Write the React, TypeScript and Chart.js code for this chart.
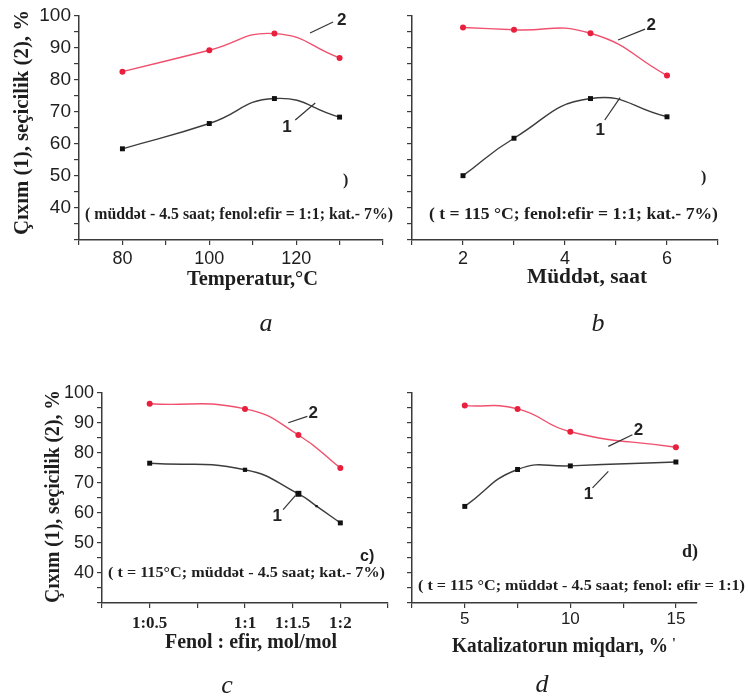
import React, { useEffect, useRef } from "react";
import { Chart, registerables } from "chart.js";

Chart.register(...registerables);

const W = 748;
const H = 697;

// ---------- data ----------
// Panel a: temperature
const tempC = [80, 100, 115, 130];
const yieldA = [58.5, 66.4, 74.2, 68.4];
const selA = [82.6, 89.3, 94.5, 86.9];
const tempTickLabels = [80, 100, 120];

// Panel b: duration, hours
const hours = [2, 3, 4.5, 6];
const yieldB = [50.1, 61.8, 74.2, 68.5];
const selB = [96.4, 95.7, 94.6, 81.4];
const hourTickLabels = [2, 4, 6];

// Panel c: phenol : ester ratio
const ratioX = [0.5, 1, 1.28, 1.5];
const ratioYieldX = [0.5, 1, 1.28, 1.375, 1.5];
const yieldC = [76.6, 74.4, 66.4, 62.3, 56.7];
const selC = [96.4, 94.7, 86.0, 75.0];
const ratioTickValues = [0.5, 1, 1.25, 1.5];
const ratioTickLabels = ["1:0.5", "1:1", "1:1.5", "1:2"];

// Panel d: catalyst amount, %
const catalyst = [5, 7.5, 10, 15];
const yieldD = [62.2, 74.5, 75.7, 77.0];
const selD = [95.8, 94.7, 87.1, 81.9];
const catalystTickLabels = [5, 10, 15];

// y axis (shared)
const yTickLabels = [40, 50, 60, 70, 80, 90, 100];

const Y_TITLE = "Çıxım (1), seçicilik (2), %";

// ---------- styles ----------
const SERIF = "'Liberation Serif', 'Times New Roman', serif";
const SANS = "'Liberation Sans', Arial, sans-serif";
const AXIS_COLOR = "#3a3a3a";
const TEXT_COLOR = "#1e1e1e";
const RED_LINE = "#f0506e";
const RED_POINT = "#e8203e";
const BLACK_LINE = "#3c3c3c";
const BLACK_POINT = "#111111";
const TENSION = 0.5;

type TextItem = {
  text: string;
  x: number;
  y: number;
  font: string;
  w?: number;
  rotate?: boolean;
  align?: CanvasTextAlign;
  baseline?: CanvasTextBaseline;
};

type Leader = {
  label: string;
  at: [number, number];
  from: [number, number];
  to: [number, number];
};

const textPlugin = {
  id: "panelText",
  afterDraw(chart: any, _args: any, opts: any) {
    const ctx: CanvasRenderingContext2D = chart.ctx;
    const xs = chart.scales.x;
    const ys = chart.scales.y;
    ctx.save();
    for (const l of (opts.leaders || []) as Leader[]) {
      ctx.strokeStyle = "#333";
      ctx.lineWidth = 1.2;
      ctx.beginPath();
      ctx.moveTo(xs.getPixelForValue(l.from[0]), ys.getPixelForValue(l.from[1]));
      ctx.lineTo(xs.getPixelForValue(l.to[0]), ys.getPixelForValue(l.to[1]));
      ctx.stroke();
      ctx.font = `bold ${opts.leaderSize || 17}px ${SANS}`;
      ctx.fillStyle = "#222";
      ctx.textAlign = "center";
      ctx.textBaseline = "middle";
      ctx.fillText(l.label, xs.getPixelForValue(l.at[0]), ys.getPixelForValue(l.at[1]));
    }
    for (const t of (opts.texts || []) as TextItem[]) {
      ctx.save();
      ctx.font = t.font;
      ctx.fillStyle = TEXT_COLOR;
      ctx.textBaseline = t.baseline || "middle";
      ctx.translate(t.x, t.y);
      if (t.rotate) ctx.rotate(-Math.PI / 2);
      if (t.w) {
        const m = ctx.measureText(t.text).width;
        ctx.scale(t.w / m, 1);
        ctx.textAlign = "left";
      } else {
        ctx.textAlign = t.align || "left";
      }
      ctx.fillText(t.text, 0, 0);
      ctx.restore();
    }
    ctx.restore();
  },
};

type Panel = {
  area: { left: number; top: number; right: number; bottom: number };
  xMin: number;
  xMax: number;
  xStep: number;
  xLabel: (v: number) => string;
  xFont: any;
  xPad: number;
  yFontSize: number;
  yLabels: boolean;
  yieldX: number[];
  yieldY: number[];
  yieldRadius?: number[];
  selX: number[];
  selY: number[];
  leaders: Leader[];
  texts: TextItem[];
};

const near = (a: number, b: number) => Math.abs(a - b) < 1e-6;

const panels: Panel[] = [
  {
    area: { left: 79, top: 16, right: 383, bottom: 240 },
    xMin: 70,
    xMax: 140,
    xStep: 10,
    xLabel: (v) => (tempTickLabels.some((t) => near(t, v)) ? String(v) : ""),
    xFont: { family: SANS, size: 18 },
    xPad: 3,
    yFontSize: 19,
    yLabels: true,
    yieldX: tempC,
    yieldY: yieldA,
    selX: tempC,
    selY: selA,
    leaders: [
      { label: "2", at: [130.5, 98.5], from: [128.5, 98.1], to: [123.2, 94.7] },
      { label: "1", at: [117.9, 65.3], from: [119.8, 67.5], to: [124.4, 72.8] },
    ],
    texts: [
      { text: Y_TITLE, x: 23, y: 235, w: 225, rotate: true, font: `bold 21px ${SERIF}` },
      { text: "Temperatur,°C", x: 187, y: 279, w: 131, font: `bold 22px ${SERIF}` },
      { text: "( müddət - 4.5 saat; fenol:efir = 1:1; kat.- 7%)", x: 85, y: 215, w: 308, font: `bold 16px ${SERIF}` },
      { text: ")", x: 343, y: 181, font: `bold 16px ${SERIF}` },
      { text: "a", x: 266, y: 331, align: "center", baseline: "alphabetic", font: `italic 26px ${SERIF}` },
    ],
  },
  {
    area: { left: 412, top: 16, right: 718, bottom: 240 },
    xMin: 1,
    xMax: 7,
    xStep: 1,
    xLabel: (v) => (hourTickLabels.some((t) => near(t, v)) ? String(v) : ""),
    xFont: { family: SANS, size: 18 },
    xPad: 3,
    yFontSize: 19,
    yLabels: false,
    yieldX: hours,
    yieldY: yieldB,
    selX: hours,
    selY: selB,
    leaders: [
      { label: "2", at: [5.69, 97.2], from: [5.57, 95.9], to: [5.04, 92.5] },
      { label: "1", at: [4.69, 64.4], from: [4.78, 67.5], to: [5.08, 74.5] },
    ],
    texts: [
      { text: "Müddət, saat", x: 527, y: 277, w: 120, font: `bold 22px ${SERIF}` },
      { text: "( t = 115 °C; fenol:efir = 1:1; kat.- 7%)", x: 429, y: 215, w: 289, font: `bold 16px ${SERIF}` },
      { text: ")", x: 701, y: 178, font: `bold 16px ${SERIF}` },
      { text: "b", x: 598, y: 331, align: "center", baseline: "alphabetic", font: `italic 26px ${SERIF}` },
    ],
  },
  {
    area: { left: 102, top: 393, right: 388, bottom: 603 },
    xMin: 0.25,
    xMax: 1.75,
    xStep: 0.25,
    xLabel: (v) => {
      const i = ratioTickValues.findIndex((t) => near(t, v));
      return i >= 0 ? ratioTickLabels[i] : "";
    },
    xFont: { family: SERIF, size: 17, weight: "bold" },
    xPad: 5,
    yFontSize: 18,
    yLabels: true,
    yieldX: ratioYieldX,
    yieldY: yieldC,
    yieldRadius: [3.5, 3, 4.2, 1.6, 3.5],
    selX: ratioX,
    selY: selC,
    leaders: [
      { label: "2", at: [1.358, 93.1], from: [1.327, 92.2], to: [1.227, 90.1] },
      { label: "1", at: [1.169, 58.9], from: [1.2, 61.1], to: [1.264, 65.8] },
    ],
    texts: [
      { text: Y_TITLE, x: 54, y: 603, w: 213, rotate: true, font: `bold 20px ${SERIF}` },
      { text: "Fenol : efir, mol/mol", x: 165, y: 643, w: 172, font: `bold 21px ${SERIF}` },
      { text: "( t = 115°C; müddət - 4.5 saat; kat.- 7%)", x: 108, y: 573, w: 277, font: `bold 15px ${SERIF}` },
      { text: "c)", x: 360, y: 557, font: `bold 16px ${SANS}` },
      { text: "c", x: 227, y: 693, align: "center", baseline: "alphabetic", font: `italic 26px ${SERIF}` },
    ],
  },
  {
    area: { left: 412, top: 393, right: 697, bottom: 603 },
    xMin: 2.5,
    xMax: 16,
    xStep: 2.5,
    xLabel: (v) => (catalystTickLabels.some((t) => near(t, v)) ? String(v) : ""),
    xFont: { family: SANS, size: 17 },
    xPad: 1,
    yFontSize: 18,
    yLabels: false,
    yieldX: catalyst,
    yieldY: yieldD,
    selX: catalyst,
    selY: selD,
    leaders: [
      { label: "2", at: [13.23, 87.4], from: [12.94, 86.1], to: [11.8, 82.2] },
      { label: "1", at: [10.86, 66.1], from: [11.05, 68.4], to: [11.8, 73.9] },
    ],
    texts: [
      { text: "Katalizatorun miqdarı, %", x: 452, y: 647, w: 216, font: `bold 20px ${SERIF}` },
      { text: "'", x: 672, y: 644, font: `bold 14px ${SERIF}` },
      { text: "( t = 115 °C; müddət - 4.5 saat; fenol: efir = 1:1)", x: 418, y: 586, w: 327, font: `bold 15px ${SERIF}` },
      { text: "d)", x: 682, y: 552, font: `bold 18px ${SERIF}` },
      { text: "d", x: 542, y: 692, align: "center", baseline: "alphabetic", font: `italic 26px ${SERIF}` },
    ],
  },
];

const X_AXIS_H = 40;

function buildConfig(p: Panel): any {
  const grid = {
    display: true,
    drawOnChartArea: false,
    drawTicks: true,
    tickLength: 5,
    color: AXIS_COLOR,
    lineWidth: 1.2,
  };
  const border = { display: true, color: AXIS_COLOR, width: 1.5 };
  return {
    type: "line",
    data: {
      datasets: [
        {
          label: "Çıxım (1)",
          data: p.yieldX.map((x, i) => ({ x, y: p.yieldY[i] })),
          borderColor: BLACK_LINE,
          borderWidth: 1.4,
          backgroundColor: BLACK_POINT,
          pointStyle: "rect",
          pointRadius: p.yieldRadius || 3.5,
          pointBackgroundColor: BLACK_POINT,
          pointBorderColor: BLACK_POINT,
          pointBorderWidth: 0,
          tension: TENSION,
          fill: false,
        },
        {
          label: "seçicilik (2)",
          data: p.selX.map((x, i) => ({ x, y: p.selY[i] })),
          borderColor: RED_LINE,
          borderWidth: 1.4,
          backgroundColor: RED_POINT,
          pointStyle: "circle",
          pointRadius: 3,
          pointBackgroundColor: RED_POINT,
          pointBorderColor: RED_POINT,
          pointBorderWidth: 0,
          tension: TENSION,
          fill: false,
        },
      ],
    },
    options: {
      animation: false,
      responsive: false,
      devicePixelRatio: 1,
      events: [],
      layout: {
        autoPadding: false,
        padding: {
          left: 0,
          top: p.area.top,
          right: W - p.area.right,
          bottom: H - p.area.bottom - X_AXIS_H,
        },
      },
      plugins: {
        legend: { display: false },
        tooltip: { enabled: false },
        title: { display: false },
        panelText: { leaders: p.leaders, texts: p.texts, leaderSize: 17 },
      },
      scales: {
        x: {
          type: "linear",
          min: p.xMin,
          max: p.xMax,
          afterFit: (s: any) => {
            s.height = X_AXIS_H;
          },
          ticks: {
            stepSize: p.xStep,
            autoSkip: false,
            maxRotation: 0,
            minRotation: 0,
            includeBounds: false,
            padding: p.xPad,
            color: TEXT_COLOR,
            font: p.xFont,
            callback: (v: any) => p.xLabel(Number(v)),
          },
          grid,
          border,
        },
        y: {
          type: "linear",
          min: 30,
          max: 100,
          afterFit: (s: any) => {
            s.width = p.area.left;
          },
          ticks: {
            stepSize: 5,
            autoSkip: false,
            includeBounds: false,
            padding: 3,
            color: TEXT_COLOR,
            font: { family: SANS, size: p.yFontSize },
            callback: (v: any) => {
              const n = Number(v);
              return p.yLabels && yTickLabels.some((t) => near(t, n)) ? String(n) : "";
            },
          },
          grid,
          border,
        },
      },
    },
    plugins: [textPlugin],
  };
}

function PanelChart({ panel }: { panel: Panel }) {
  const ref = useRef<HTMLCanvasElement | null>(null);
  useEffect(() => {
    if (!ref.current) return;
    const chart = new Chart(ref.current, buildConfig(panel));
    return () => chart.destroy();
  }, [panel]);
  return (
    <canvas
      ref={ref}
      width={W}
      height={H}
      style={{ position: "absolute", left: 0, top: 0, width: W, height: H }}
    />
  );
}

export default function App() {
  return (
    <div
      style={{
        position: "absolute",
        left: 0,
        top: 0,
        width: W,
        height: H,
        background: "#ffffff",
        overflow: "hidden",
      }}
    >
      {panels.map((p, i) => (
        <PanelChart key={i} panel={p} />
      ))}
    </div>
  );
}
